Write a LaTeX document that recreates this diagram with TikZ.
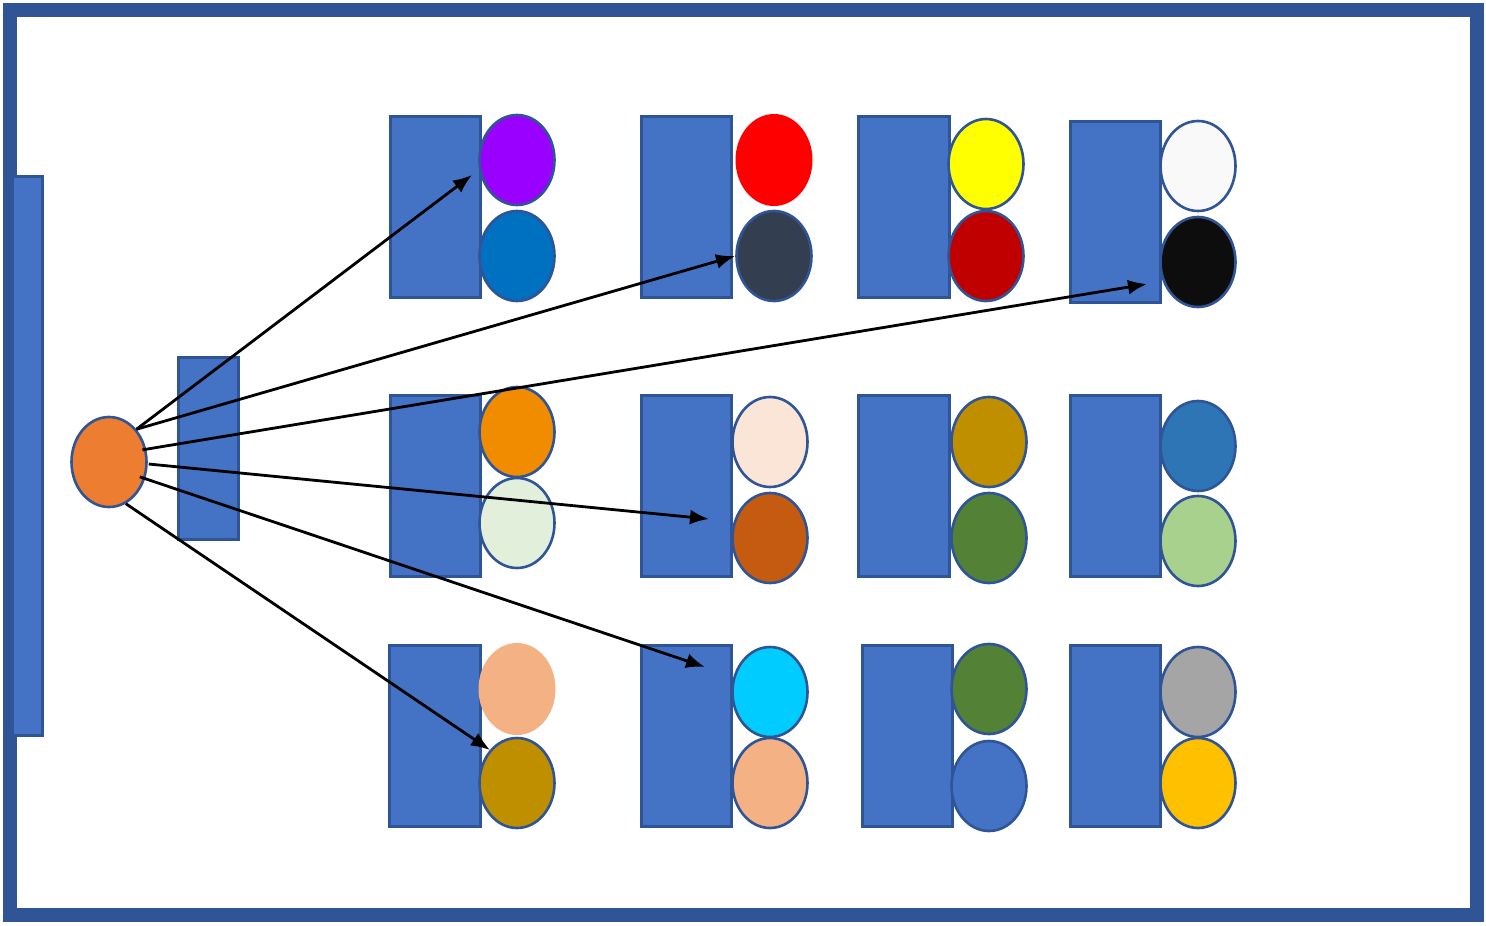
\documentclass[tikz,border=0pt]{standalone}
\usetikzlibrary{shapes.geometric,arrows.meta}
\definecolor{frameblue}{HTML}{2F5597}
\definecolor{boxblue}{HTML}{4472C4}
\definecolor{cOrange}{HTML}{ED7D31}
\definecolor{cPurple}{HTML}{9900FF}
\definecolor{cBlue}{HTML}{0070C0}
\definecolor{cRed}{HTML}{FF0000}
\definecolor{cSlate}{HTML}{333F50}
\definecolor{cYellow}{HTML}{FFFF00}
\definecolor{cDarkRed}{HTML}{C00000}
\definecolor{cWhite}{HTML}{F9F9F9}
\definecolor{cBlack}{HTML}{0D0D0D}
\definecolor{cAmber}{HTML}{F18C00}
\definecolor{cMint}{HTML}{E2EFDA}
\definecolor{cPeach}{HTML}{FBE5D6}
\definecolor{cRust}{HTML}{C55A11}
\definecolor{cGold}{HTML}{BF8F00}
\definecolor{cGreen}{HTML}{538135}
\definecolor{cSteel}{HTML}{2E75B6}
\definecolor{cLime}{HTML}{A9D18E}
\definecolor{cSalmon}{HTML}{F4B183}
\definecolor{cCyan}{HTML}{00CCFF}
\definecolor{cGrey}{HTML}{A5A5A5}
\definecolor{cSun}{HTML}{FFC000}
\begin{document}
\begin{tikzpicture}[x=1pt,y=-1pt,
  bar/.style={draw=frameblue,line width=2.6pt,fill=boxblue,rectangle,inner sep=0pt,anchor=north west},
  dot/.style={ellipse,draw=frameblue,line width=2.6pt,inner sep=0pt,minimum width=75pt,minimum height=90pt},
  plain/.style={ellipse,inner sep=0pt,minimum width=77pt,minimum height=92pt},
  arr/.style={line width=2.8pt,-{Latex[length=19pt,width=15pt]}}]
\useasboundingbox (0,0) rectangle (1486,926);
\fill[white] (0,0) rectangle (1486,926);
\draw[frameblue,line width=14pt] (10,10) rectangle (1477,915);
% left bars
\node[bar,minimum width=30pt,minimum height=559pt] (lbar) at (11,175) {};
\node[bar,minimum width=60pt,minimum height=182pt] (sbar) at (177,356) {};
\node[dot,fill=cOrange] (o) at (109,462) {};
% row 1
\node[bar,minimum width=90pt,minimum height=181pt] (r11) at (389,115) {};
\node[dot,fill=cPurple] (e11a) at (517,160) {};
\node[dot,fill=cBlue] (e11b) at (517,256) {};
\node[bar,minimum width=90pt,minimum height=181pt] (r12) at (640,115) {};
\node[plain,fill=cRed] (e12a) at (774,160) {};
\node[dot,fill=cSlate] (e12b) at (774,256) {};
\node[bar,minimum width=91pt,minimum height=181pt] (r13) at (857,115) {};
\node[dot,fill=cYellow] (e13a) at (986,164) {};
\node[dot,fill=cDarkRed] (e13b) at (986,256) {};
\node[bar,minimum width=90pt,minimum height=181pt] (r14) at (1069,120) {};
\node[dot,fill=cWhite] (e14a) at (1198,166) {};
\node[dot,fill=cBlack] (e14b) at (1198,262) {};
% row 2
\node[bar,minimum width=90pt,minimum height=181pt] (r21) at (389,394) {};
\node[dot,fill=cAmber] (e21a) at (517,432) {};
\node[dot,fill=cMint] (e21b) at (517,523) {};
\node[bar,minimum width=90pt,minimum height=181pt] (r22) at (640,394) {};
\node[dot,fill=cPeach] (e22a) at (770,442) {};
\node[dot,fill=cRust] (e22b) at (770,538) {};
\node[bar,minimum width=91pt,minimum height=181pt] (r23) at (857,394) {};
\node[dot,fill=cGold] (e23a) at (989,442) {};
\node[dot,fill=cGreen] (e23b) at (989,538) {};
\node[bar,minimum width=90pt,minimum height=181pt] (r24) at (1069,394) {};
\node[dot,fill=cSteel] (e24a) at (1198,446) {};
\node[dot,fill=cLime] (e24b) at (1198,541) {};
% row 3
\node[bar,minimum width=91pt,minimum height=181pt] (r31) at (388,644) {};
\node[plain,fill=cSalmon] (e31a) at (517,689) {};
\node[dot,fill=cGold] (e31b) at (517,783) {};
\node[bar,minimum width=90pt,minimum height=181pt] (r32) at (640,644) {};
\node[dot,fill=cCyan] (e32a) at (770,692) {};
\node[dot,fill=cSalmon] (e32b) at (770,783) {};
\node[bar,minimum width=90pt,minimum height=181pt] (r33) at (861,644) {};
\node[dot,fill=cGreen] (e33a) at (989,689) {};
\node[dot,fill=boxblue] (e33b) at (989,786) {};
\node[bar,minimum width=90pt,minimum height=181pt] (r34) at (1069,644) {};
\node[dot,fill=cGrey] (e34a) at (1198,692) {};
\node[dot,fill=cSun] (e34b) at (1198,783) {};
% arrow ends
\coordinate (t1) at (472,175);
\coordinate (t2) at (735,256);
\coordinate (t3) at (1147,284);
\coordinate (t4) at (709,519);
\coordinate (t5) at (705,667);
\coordinate (t6) at (490,750);
\draw[arr] (o.north east) -- (t1);
\draw[arr] (o.north east) -- (t2);
\draw[arr] ([shift={(-4,0)}]o.18) -- (t3);
\draw[arr] ([shift={(1,0)}]o.-3) -- (t4);
\draw[arr] ([shift={(-6,0)}]o.-22) -- (t5);
\draw[arr] (o.-68) -- (t6);
\end{tikzpicture}
\end{document}
